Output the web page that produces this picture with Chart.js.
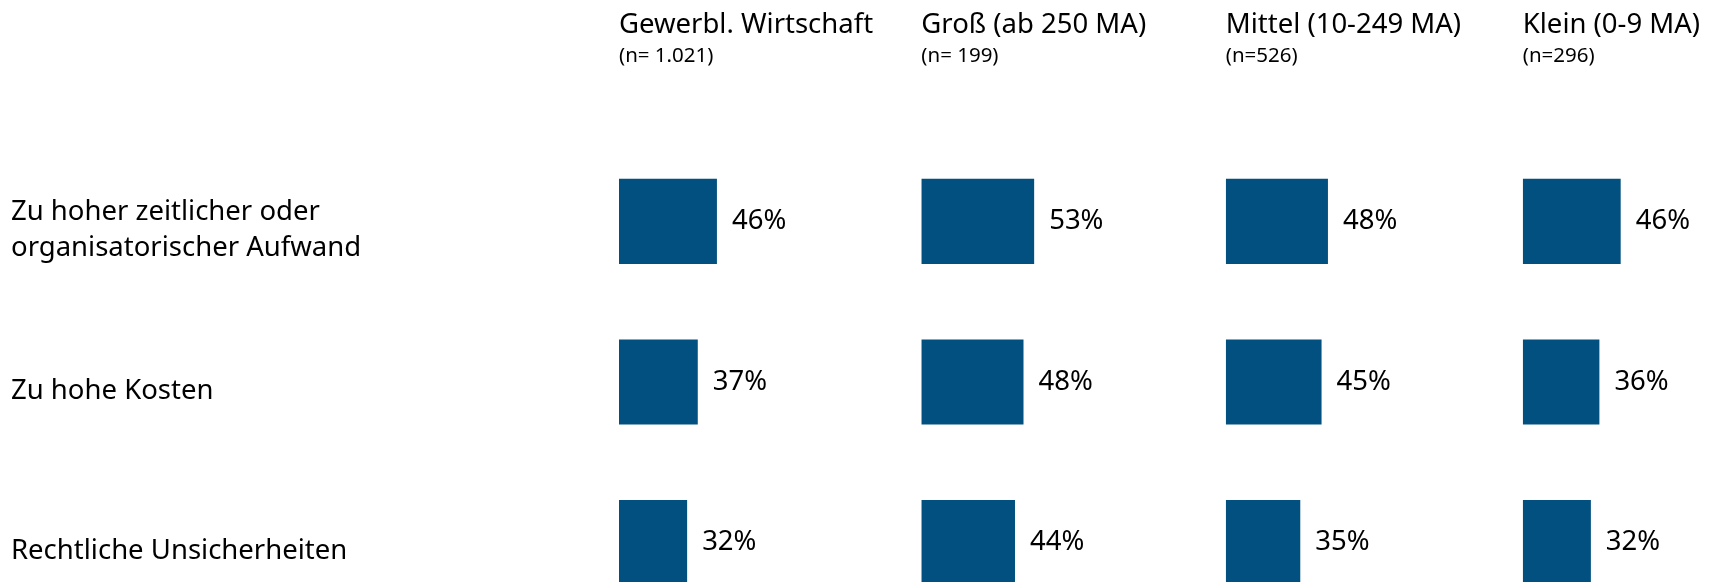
<!DOCTYPE html>
<html lang="de">
<head>
<meta charset="utf-8">
<title>Hemmnisse nach Unternehmensgröße</title>
<script src="https://cdn.jsdelivr.net/npm/chart.js@4.4.1/dist/chart.umd.min.js"></script>
<style>
  html, body { margin: 0; padding: 0; background: #fff; overflow: hidden; }
  #wrap { position: relative; width: 1725px; height: 660px; }
</style>
</head>
<body>
<div id="wrap"><canvas id="chart"></canvas></div>
<script>
// rows (reasons) and columns (company size groups)
const categories = [
  ['Zu hoher zeitlicher oder', 'organisatorischer Aufwand'],
  'Zu hohe Kosten',
  'Rechtliche Unsicherheiten'
];
const groups = ['Gewerbl. Wirtschaft', 'Groß (ab 250 MA)', 'Mittel (10-249 MA)', 'Klein (0-9 MA)'];
const sampleSizes = ['(n= 1.021)', '(n= 199)', '(n=526)', '(n=296)'];

const gewerbl = [46, 37, 32];
const gross = [53, 48, 44];
const mittel = [48, 45, 35];
const klein = [46, 36, 32];

const series = [gewerbl, gross, mittel, klein];

(() => {
  const FONT = '"Noto Sans", "Open Sans", sans-serif';
  const BLUE = '#02507f';
  // each column gets its own x scale; max doubles as stack weight so 1% is the same width everywhere
  const colMax = [142, 143, 139.5, 95];

  const scales = {
    y: {
      type: 'category',
      position: 'left',
      grid: { display: false },
      border: { display: false },
      ticks: {
        crossAlign: 'far',
        color: '#000',
        padding: 0,
        labelOffset: 9,
        font: { family: FONT, size: 27.5, lineHeight: 1.32 }
      },
      afterFit: (s) => { s.width = 608; }
    }
  };
  series.forEach((_, i) => {
    scales['x' + i] = {
      type: 'linear',
      axis: 'x',
      position: 'bottom',
      stack: 'cols',
      stackWeight: colMax[i],
      min: 0,
      max: colMax[i],
      display: false
    };
  });

  const valueLabels = {
    id: 'valueLabels',
    afterDatasetsDraw(chart) {
      const { ctx } = chart;
      ctx.save();
      ctx.font = `27.5px ${FONT}`;
      ctx.fillStyle = '#000';
      ctx.textAlign = 'left';
      ctx.textBaseline = 'middle';
      chart.data.datasets.forEach((ds, di) => {
        chart.getDatasetMeta(di).data.forEach((bar, i) => {
          ctx.fillText(ds.data[i] + '%', bar.x + 15, bar.y);
        });
      });
      ctx.restore();
    }
  };

  // column titles sit at the left edge of each column, kept inside the right margin
  const colHeaders = {
    id: 'colHeaders',
    afterDraw(chart) {
      const { ctx } = chart;
      ctx.save();
      ctx.fillStyle = '#000';
      ctx.textAlign = 'left';
      ctx.textBaseline = 'alphabetic';
      groups.forEach((g, i) => {
        const sc = chart.scales['x' + i];
        ctx.font = `27.5px ${FONT}`;
        const x = Math.min(sc.left, chart.width - 20 - ctx.measureText(g).width);
        ctx.fillText(g, x, 33);
        ctx.font = `20.5px ${FONT}`;
        ctx.fillText(sampleSizes[i], x, 62);
      });
      ctx.restore();
    }
  };

  new Chart(document.getElementById('chart'), {
    type: 'bar',
    data: {
      labels: categories,
      datasets: series.map((vals, i) => ({
        label: groups[i],
        data: vals,
        xAxisID: 'x' + i,
        yAxisID: 'y',
        backgroundColor: BLUE,
        borderWidth: 0,
        grouped: false,
        categoryPercentage: 1,
        barPercentage: 0.53
      }))
    },
    options: {
      indexAxis: 'y',
      responsive: true,
      maintainAspectRatio: false,
      animation: false,
      devicePixelRatio: 1,
      layout: { padding: { top: 141, bottom: 37, left: 11, right: 0 } },
      plugins: {
        legend: { display: false },
        tooltip: { enabled: false }
      },
      scales
    },
    plugins: [valueLabels, colHeaders]
  });
})();
</script>
</body>
</html>
